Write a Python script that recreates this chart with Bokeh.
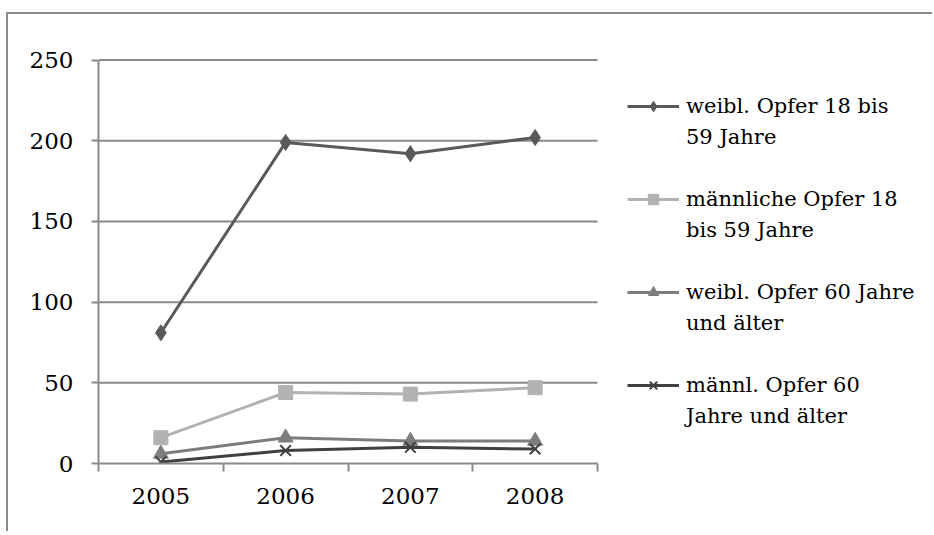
from bokeh.plotting import figure
from bokeh.models import Range1d, FixedTicker, Legend, LegendItem
from bokeh.embed import file_html
from bokeh.resources import INLINE

# ---- data ----
years = ["2005", "2006", "2007", "2008"]
weibl_18_59 = [81, 199, 192, 202]
maennl_18_59 = [16, 44, 43, 47]
weibl_60 = [6, 16, 14, 14]
maennl_60 = [1, 8, 10, 9]
y_ticks = [0, 50, 100, 150, 200, 250]
legend_labels = [
    ["weibl. Opfer 18 bis", "59 Jahre"],
    ["männliche Opfer 18", "bis 59 Jahre"],
    ["weibl. Opfer 60 Jahre", "und älter"],
    ["männl. Opfer 60", "Jahre und älter"],
]

x = list(range(1, len(years) + 1))
boundaries = [i + 0.5 for i in range(len(years) + 1)]

W, H = 926, 519
FONT = "DejaVu Serif"
GRID = "#8a8a8a"
PX_PER_CAT = 124.75
FRAME_W = W - 90
x_end = 0.5 + FRAME_W / PX_PER_CAT

p = figure(width=W, height=H, output_backend="svg", toolbar_location=None,
           x_range=Range1d(0.5, x_end), y_range=Range1d(0, y_ticks[-1] + 1),
           min_border_left=90, min_border_top=44, min_border_bottom=70,
           min_border_right=0,
           styles={"border-left": "2px solid #8a8a8a",
                   "border-top": "2px solid #8a8a8a",
                   "margin-left": "6px", "margin-top": "12px"})
p.outline_line_color = None
p.background_fill_color = "white"
p.border_fill_color = "white"

# axes
p.xaxis.bounds = (boundaries[0], boundaries[-1])
p.xaxis.ticker = FixedTicker(ticks=x, minor_ticks=boundaries)
p.xaxis.major_label_overrides = {xi: yr for xi, yr in zip(x, years)}
p.xaxis.major_tick_out = 0
p.xaxis.major_tick_in = 0
p.xaxis.minor_tick_out = 8
p.xaxis.minor_tick_in = 0
p.xaxis.minor_tick_line_color = GRID
p.xaxis.minor_tick_line_width = 2
p.xaxis.major_label_standoff = 16

p.yaxis.bounds = (y_ticks[0], y_ticks[-1])
p.yaxis.ticker = FixedTicker(ticks=y_ticks)
p.yaxis.major_tick_out = 7
p.yaxis.major_tick_in = 0
p.yaxis.minor_tick_line_color = None
p.yaxis.major_tick_line_color = GRID
p.yaxis.major_tick_line_width = 2
p.yaxis.major_label_standoff = 18

for ax in (p.xaxis, p.yaxis):
    ax.axis_line_color = GRID
    ax.axis_line_width = 2
    ax.major_label_text_font = FONT
    ax.major_label_text_font_size = "23px"
    ax.major_label_text_color = "black"

# horizontal gridlines restricted to the category span
p.xgrid.visible = False
p.ygrid.visible = False
gy = y_ticks[1:]
p.segment(x0=[boundaries[0]] * len(gy), x1=[boundaries[-1]] * len(gy),
          y0=gy, y1=gy, line_color=GRID, line_width=2)

# series
series = [
    (weibl_18_59, "#595959", dict(marker="diamond", size=16)),
    (maennl_18_59, "#b2b2b2", dict(marker="square", size=14)),
    (weibl_60, "#7d7d7d", dict(marker="triangle", size=15)),
    (maennl_60, "#404040", dict(marker="x", size=15)),
]
renderer_pairs = []
for vals, col, mk in series:
    lr = p.line(x, vals, line_color=col, line_width=3)
    if mk["marker"] == "x":
        sr = p.scatter(x, vals, line_color=col, line_width=2, **mk)
    else:
        sr = p.scatter(x, vals, fill_color=col, line_color=col, **mk)
    renderer_pairs.append([lr, sr])

items = []
for pair, (l1, l2) in zip(renderer_pairs, legend_labels):
    items.append(LegendItem(label=l1, renderers=pair))
    items.append(LegendItem(label=l2, renderers=[]))
    items.append(LegendItem(label=" ", renderers=[]))
items = items[:-1]

legend = Legend(items=items, location=(529, 32), padding=0, margin=0, spacing=0,
                label_height=31, glyph_height=26, glyph_width=52, label_standoff=7,
                label_text_font=FONT, label_text_font_size="21px",
                label_text_color="black", border_line_alpha=0,
                background_fill_alpha=0)
p.add_layout(legend)

open("out.html", "w").write(file_html(p, INLINE))
